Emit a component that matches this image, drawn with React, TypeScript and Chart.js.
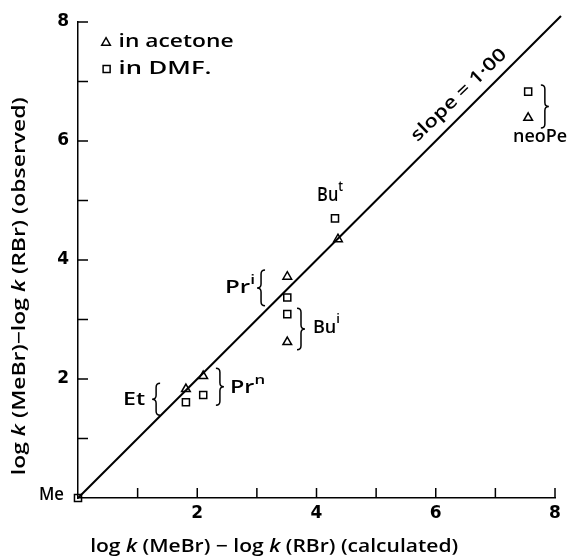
import React, { useEffect, useRef } from 'react';
import { Chart, registerables } from 'chart.js';

Chart.register(...registerables);

// ---- data ----
const acetoneNames = ['Et', 'Prn', 'Pri', 'Bui', 'But', 'neoPe'];
const acetoneX = [1.81, 2.1, 3.51, 3.51, 4.36, 7.55];
const acetoneY = [1.83, 2.05, 3.72, 2.62, 4.35, 6.39];
const dmfNames = ['Me', 'Et', 'Prn', 'Pri', 'Bui', 'But', 'neoPe'];
const dmfX = [0, 1.81, 2.1, 3.51, 3.51, 4.31, 7.55];
const dmfY = [0, 1.61, 1.73, 3.37, 3.09, 4.7, 6.83];
const slopeX = [0, 8.1];
const slopeY = [0, 8.1];
const tickLabels = ['', '', '2', '', '4', '', '6', '', '8'];

const xTitle = [
  { t: 'log ' }, { t: 'k', it: true }, { t: ' (MeBr) \u2212 log ' }, { t: 'k', it: true }, { t: ' (RBr) (calculated)' },
];
const yTitle = [
  { t: 'log ' }, { t: 'k', it: true }, { t: ' (MeBr)\u2212log ' }, { t: 'k', it: true }, { t: ' (RBr) (observed)' },
];

type Seg = { t: string; it?: boolean; sup?: boolean };
const FAMILY = '"Open Sans", "DejaVu Sans", sans-serif';
const TICK_FAMILY = '"DejaVu Sans", sans-serif';

// text annotations (anchor in data units)
const textNotes: { segs: Seg[]; x: number; y: number; align: 'left' | 'center' | 'right'; w: number; size: number; rot?: number }[] = [
  { segs: [{ t: 'Me' }], x: -0.235, y: 0.05, align: 'right', w: 25, size: 18 },
  { segs: [{ t: 'Et' }], x: 0.94, y: 1.65, align: 'center', w: 22, size: 18 },
  { segs: [{ t: 'Pr' }, { t: 'n', sup: true }], x: 2.55, y: 1.85, align: 'left', w: 35, size: 18 },
  { segs: [{ t: 'Pr' }, { t: 'i', sup: true }], x: 2.97, y: 3.53, align: 'right', w: 30, size: 18 },
  { segs: [{ t: 'Bu' }, { t: 'i', sup: true }], x: 3.94, y: 2.86, align: 'left', w: 27, size: 18 },
  { segs: [{ t: 'Bu' }, { t: 't', sup: true }], x: 4.01, y: 5.09, align: 'left', w: 26, size: 19 },
  { segs: [{ t: 'neoPe' }], x: 7.75, y: 6.07, align: 'center', w: 54, size: 18 },
  { segs: [{ t: 'slope = 1\u00b700' }], x: 6.39, y: 6.77, align: 'center', w: 125, size: 18, rot: -44 },
];

// braces: dir 1 = "}", -1 = "{"
const braces = [
  { x: 1.31, y1: 1.93, y2: 1.39, dir: -1 },
  { x: 2.38, y1: 2.18, y2: 1.56, dir: 1 },
  { x: 3.07, y1: 3.83, y2: 3.23, dir: -1 },
  { x: 3.74, y1: 3.19, y2: 2.49, dir: 1 },
  { x: 7.83, y1: 6.94, y2: 6.22, dir: 1 },
];

const legendItems = [
  { label: 'in acetone', style: 'triangle', x: 0.47, y: 7.66, tx: 0.68, w: 115 },
  { label: 'in DMF.', style: 'rect', x: 0.48, y: 7.21, tx: 0.68, w: 93 },
];

function drawText(
  ctx: CanvasRenderingContext2D, segs: Seg[], x: number, y: number, size: number,
  align: 'left' | 'center' | 'right', width?: number, rotDeg?: number, weight = '600',
) {
  ctx.save();
  ctx.translate(x, y);
  if (rotDeg) ctx.rotate((rotDeg * Math.PI) / 180);
  const font = (s: Seg) => `${s.it ? 'italic ' : ''}${weight} ${s.sup ? Math.round(size * 0.72) : size}px ${FAMILY}`;
  let total = 0;
  const widths = segs.map((s) => {
    ctx.font = font(s);
    const w = ctx.measureText(s.t).width;
    total += w;
    return w;
  });
  const sx = width ? width / total : 1;
  ctx.scale(sx, 1);
  let cx = align === 'right' ? -total : align === 'left' ? 0 : -total / 2;
  ctx.textBaseline = 'middle';
  ctx.textAlign = 'left';
  ctx.fillStyle = '#000';
  segs.forEach((s, i) => {
    ctx.font = font(s);
    ctx.fillText(s.t, cx, s.sup ? -size * 0.45 : 0);
    cx += widths[i];
  });
  ctx.restore();
}

function drawBrace(ctx: CanvasRenderingContext2D, xc: number, ya: number, yb: number, dir: number) {
  const w = 8 * dir;
  const x0 = xc - w / 2;
  const y1 = Math.min(ya, yb);
  const y2 = Math.max(ya, yb);
  const ym = (y1 + y2) / 2;
  const q = Math.min(4, (y2 - y1) / 6);
  ctx.beginPath();
  ctx.moveTo(x0, y1);
  ctx.quadraticCurveTo(x0 + w / 2, y1, x0 + w / 2, y1 + q);
  ctx.lineTo(x0 + w / 2, ym - q);
  ctx.quadraticCurveTo(x0 + w / 2, ym, x0 + w, ym);
  ctx.quadraticCurveTo(x0 + w / 2, ym, x0 + w / 2, ym + q);
  ctx.lineTo(x0 + w / 2, y2 - q);
  ctx.quadraticCurveTo(x0 + w / 2, y2, x0, y2);
  ctx.stroke();
}

const decorPlugin = {
  id: 'decor',
  afterDraw(chart: any) {
    const ctx: CanvasRenderingContext2D = chart.ctx;
    const xs = chart.scales.x;
    const ys = chart.scales.y;
    const px = (v: number) => xs.getPixelForValue(v);
    const py = (v: number) => ys.getPixelForValue(v);
    const { left, bottom } = chart.chartArea;
    ctx.save();
    ctx.strokeStyle = '#000';
    ctx.lineWidth = 1.5;
    // inward tick marks
    for (let v = 1; v <= 8; v++) {
      ctx.beginPath();
      ctx.moveTo(px(v), bottom);
      ctx.lineTo(px(v), bottom - 10);
      ctx.moveTo(left, py(v));
      ctx.lineTo(left + 10, py(v));
      ctx.stroke();
    }
    // braces
    braces.forEach((b) => drawBrace(ctx, px(b.x), py(b.y1), py(b.y2), b.dir));
    // legend
    legendItems.forEach((it) => {
      const cx = px(it.x);
      const cy = py(it.y);
      ctx.beginPath();
      if (it.style === 'triangle') {
        ctx.moveTo(cx, cy - 4.5);
        ctx.lineTo(cx + 4.3, cy + 3);
        ctx.lineTo(cx - 4.3, cy + 3);
        ctx.closePath();
      } else {
        ctx.rect(cx - 3.5, cy - 3.5, 7, 7);
      }
      ctx.stroke();
      drawText(ctx, [{ t: it.label }], px(it.tx), cy, 18, 'left', it.w);
    });
    // annotations
    textNotes.forEach((n) => drawText(ctx, n.segs, px(n.x), py(n.y), n.size, n.align, n.w, n.rot));
    // axis titles
    drawText(ctx, xTitle, px(3.29), py(-0.82), 18, 'center', 368);
    drawText(ctx, yTitle, px(-0.97), py(3.56), 18, 'center', 378, -90);
    ctx.restore();
  },
};

export default function App() {
  const ref = useRef<HTMLCanvasElement | null>(null);
  useEffect(() => {
    if (!ref.current) return;
    const chart = new Chart(ref.current, {
      type: 'scatter',
      data: {
        datasets: [
          {
            type: 'line',
            label: 'slope = 1.00',
            data: slopeX.map((x, i) => ({ x, y: slopeY[i] })),
            borderColor: '#000',
            borderWidth: 2,
            pointRadius: 0,
            showLine: true,
            fill: false,
            clip: false,
          } as any,
          {
            label: 'in acetone',
            data: acetoneX.map((x, i) => ({ x, y: acetoneY[i], name: acetoneNames[i] })),
            pointStyle: 'triangle',
            pointRadius: 5,
            borderWidth: 1.5,
            borderColor: '#000',
            backgroundColor: 'rgba(255,255,255,0)',
            clip: false,
          },
          {
            label: 'in DMF.',
            data: dmfX.map((x, i) => ({ x, y: dmfY[i], name: dmfNames[i] })),
            pointStyle: 'rect',
            pointRadius: 5,
            borderWidth: 1.5,
            borderColor: '#000',
            backgroundColor: 'rgba(255,255,255,0)',
            clip: false,
          },
        ],
      },
      options: {
        responsive: false,
        animation: false,
        layout: { padding: { left: 0, right: 15, top: 22, bottom: 0 } },
        plugins: { legend: { display: false }, tooltip: { enabled: false } },
        scales: {
          x: {
            type: 'linear',
            min: 0,
            max: 8,
            grid: { display: false, drawTicks: false, tickLength: 0 },
            border: { display: true, color: '#000', width: 1.5 },
            ticks: {
              stepSize: 1,
              autoSkip: false,
              maxRotation: 0,
              padding: 5,
              color: '#000',
              font: { family: TICK_FAMILY, size: 17, weight: 'bold' },
              callback: (v: any) => tickLabels[Math.round(Number(v))] ?? '',
            },
            afterFit: (s: any) => { s.height = 61; },
          },
          y: {
            type: 'linear',
            min: 0,
            max: 8,
            grid: { display: false, drawTicks: false, tickLength: 0 },
            border: { display: true, color: '#000', width: 1.5 },
            ticks: {
              stepSize: 1,
              autoSkip: false,
              padding: 9,
              color: '#000',
              font: { family: TICK_FAMILY, size: 17, weight: 'bold' },
              callback: (v: any) => tickLabels[Math.round(Number(v))] ?? '',
            },
            afterFit: (s: any) => { s.width = 78; },
          },
        },
      },
      plugins: [decorPlugin],
    });
    return () => chart.destroy();
  }, []);
  return (
    <div style={{ position: 'absolute', left: 0, top: 0, width: 570, height: 559, background: '#fff' }}>
      <canvas ref={ref} width={570} height={559} />
    </div>
  );
}
